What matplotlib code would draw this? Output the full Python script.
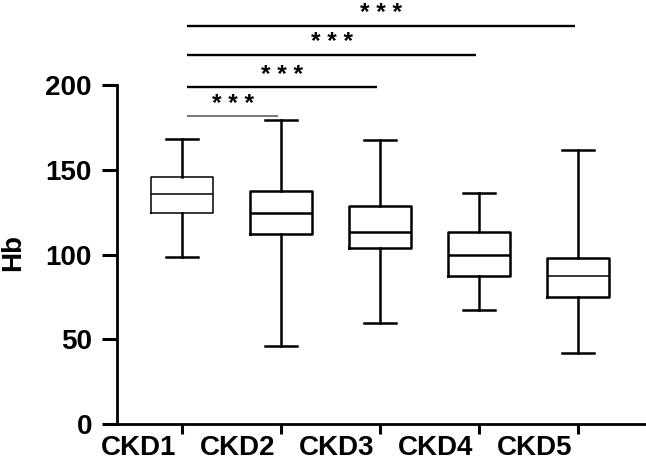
import numpy as np
import matplotlib; matplotlib.use("Agg")
import matplotlib.pyplot as plt
import matplotlib.transforms as mtransforms

plt.rcParams["font.family"] = ["Liberation Sans", "DejaVu Sans"]
plt.rcParams["font.weight"] = "bold"

# Hb box summaries (whisker low, Q1, median, Q3, whisker high)
GROUPS = ["CKD1", "CKD2", "CKD3", "CKD4", "CKD5"]
WHISK_LO = [98.8, 46.1, 60.0, 67.2, 42.2]
Q1 = [124.4, 112.0, 103.7, 87.2, 74.8]
MEDIAN = [135.6, 124.8, 113.2, 99.8, 87.2]
Q3 = [145.9, 137.4, 128.8, 113.2, 98.1]
WHISK_HI = [168.2, 179.6, 167.7, 136.6, 161.6]
# significance brackets: (group a, group b), bar height, label
SIG_PAIRS = [(1, 2), (1, 3), (1, 4), (1, 5)]
SIG_Y = [181.7, 198.6, 217.9, 235.0]
SIG_LABEL = ["* * *", "* * *", "* * *", "* * *"]

fig = plt.figure(figsize=(6.46, 4.61), dpi=100)
ax = fig.add_axes([0.181, 0.0796, 0.819, 0.7360])

pos = np.arange(1, len(GROUPS) + 1)
stats = [dict(whislo=lo, q1=a, med=m, q3=b, whishi=hi, fliers=[])
         for lo, a, m, b, hi in zip(WHISK_LO, Q1, MEDIAN, Q3, WHISK_HI)]
art = ax.bxp(stats, positions=pos, widths=0.63, capwidths=0.32, patch_artist=False,
             boxprops=dict(color="black", lw=1.8), medianprops=dict(color="black", lw=1.8),
             whiskerprops=dict(color="black", lw=1.8), capprops=dict(color="black", lw=1.8))
# first box drawn with thinner outline, last median thinner, like the original
art["boxes"][0].set_linewidth(1.1)
art["medians"][0].set_linewidth(1.1)
art["medians"][4].set_linewidth(1.1)

for (a, b), y, lab in zip(SIG_PAIRS, SIG_Y, SIG_LABEL):
    thin = (b - a) == 1
    x0, x1 = a + 0.05, b - 0.03
    ax.plot([x0, x1], [y, y], color="#555555" if thin else "black",
            lw=1.1 if thin else 1.7, clip_on=False, solid_capstyle="butt")
    ax.text((x0 + x1) / 2, y + 3.2, lab, ha="center", va="baseline",
            fontsize=17.5, fontweight="bold", clip_on=False)

ax.set_xlim(0.34, 5.69)
ax.set_ylim(0, 200)
ax.set_yticks([0, 50, 100, 150, 200])
ax.set_xticks(pos)
ax.set_xticklabels(GROUPS)
for sp in ("top", "right"):
    ax.spines[sp].set_visible(False)
for sp in ("left", "bottom"):
    ax.spines[sp].set_linewidth(2.0)
ax.tick_params(axis="y", length=11, width=2.2, pad=7, labelsize=20)
ax.tick_params(axis="x", length=7.5, width=2.2, pad=0.3, labelsize=20)
shift = mtransforms.ScaledTranslation(-4 / 72, 0, fig.dpi_scale_trans)
for lbl in ax.get_xticklabels():
    lbl.set_horizontalalignment("right")
    lbl.set_transform(lbl.get_transform() + shift)
for lbl in ax.get_yticklabels() + ax.get_xticklabels():
    lbl.set_fontweight("bold")

fig.text(0.0, 0.452, "Hb", rotation=90, ha="left", va="center",
         fontsize=20, fontweight="bold")

fig.savefig("out.png", dpi=100)
